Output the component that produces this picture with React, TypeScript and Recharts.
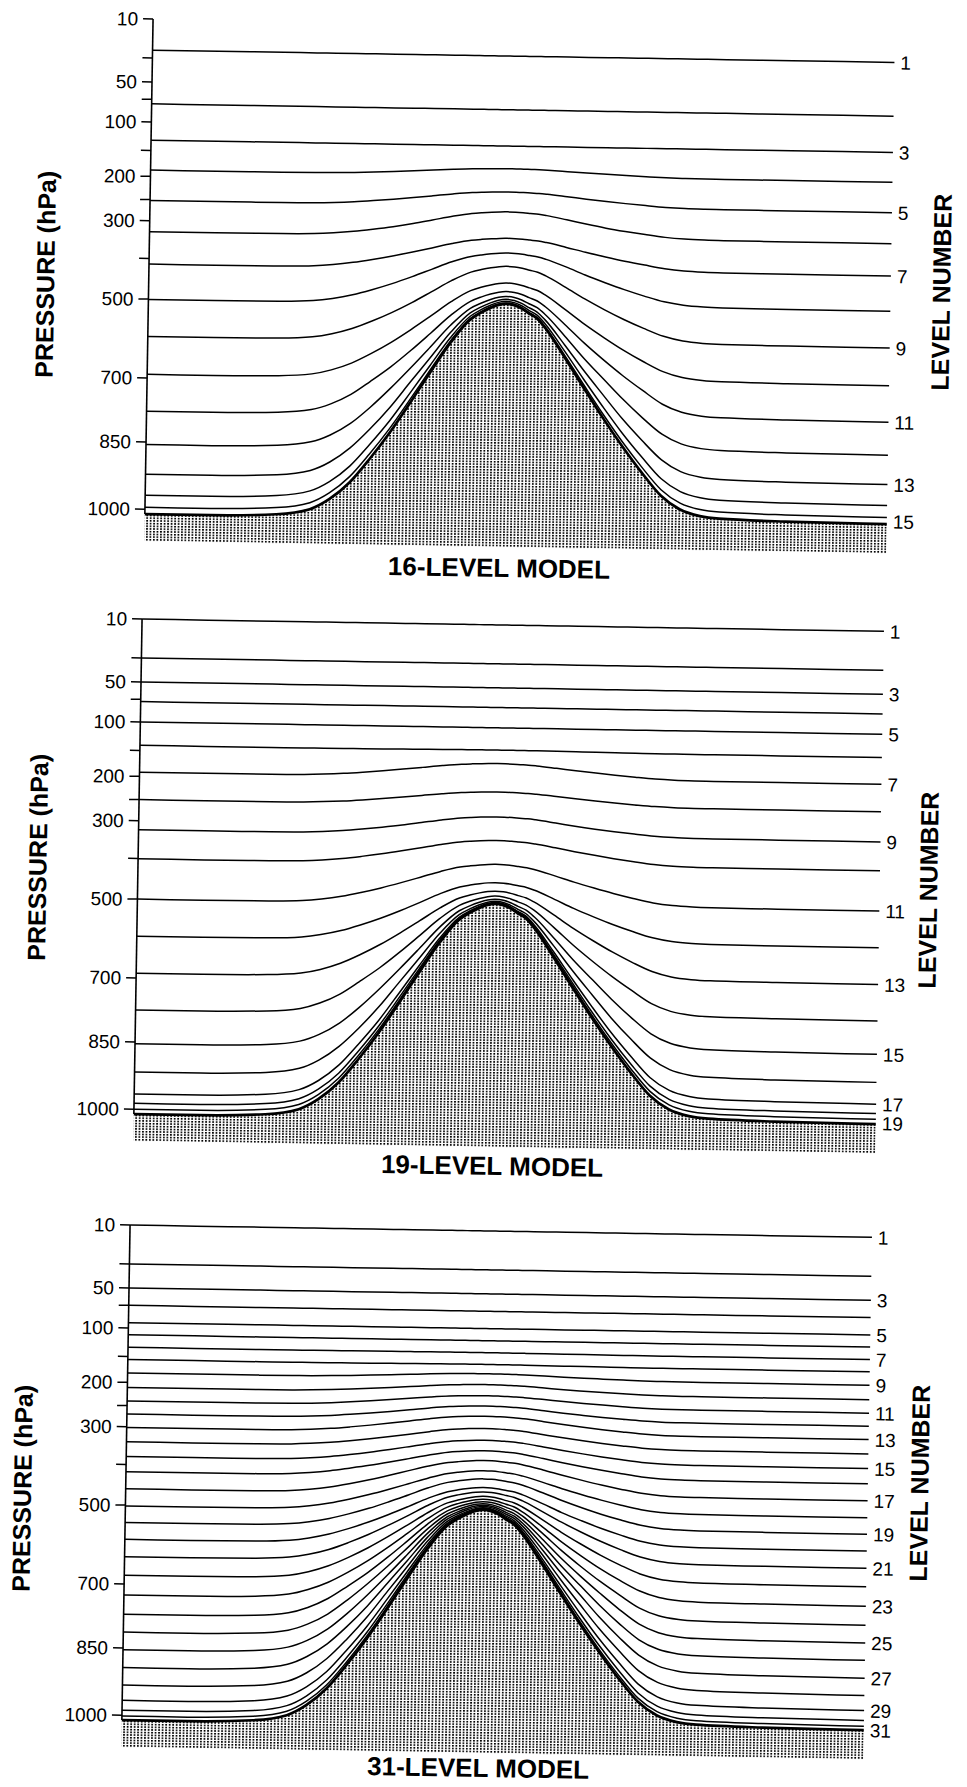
import React from 'react';
import { ComposedChart, Line, Area, XAxis, YAxis, ReferenceLine } from 'recharts';

const FONT = '"Liberation Sans", Arial, Helvetica, sans-serif';

// pressure axis: tick values, their labels, and where each sits (px below the 10 hPa tick)
const PRESSURE_TICKS = [10, 30, 50, 70, 100, 150, 200, 250, 300, 400, 500, 700, 850, 1000];
const TICK_LABELS = ['10', '', '50', '', '100', '', '200', '', '300', '', '500', '700', '850', '1000'];
const TICK_HEIGHTS = [0, 38.9, 62.9, 80.3, 102.9, 131.4, 157.3, 180.6, 201.7, 239.4, 280.1, 358.9, 422.9, 490.2];

// the mountain: position along the section (0-100) and surface pressure (hPa)
const TERRAIN_X = [0, 8.9, 17.7, 22.2, 24.8, 27.5, 30.1, 32.8, 35.5, 38.1, 40.8, 43.4, 44.8, 46.1, 47.2, 48.2, 49.3, 50.3, 51.3, 52.4, 53.5, 56.2, 58.8, 61.5, 64.1, 66.8, 69.5, 72.1, 74.8, 77.4, 86.3, 100];
const TERRAIN_PS = [1011, 1011, 1006.5, 994, 971, 933, 881, 819, 748, 675, 598, 539, 521, 508, 500, 497, 500, 508, 520, 533, 556, 630, 705, 776, 840, 899, 951, 981, 995, 1000, 1004, 1006];
const PS_FLAT = 1011;
const PS_SUMMIT = 497;

// level pressure over flat ground and over the summit
const L16_FLAT = [26, 76, 132, 188, 252, 329, 414, 501, 595, 691, 778, 856, 922, 969, 996];
const L16_PEAK = [26, 76, 132, 174, 221, 265, 331, 370, 405, 446, 467, 479, 486, 491, 495];

const L19_FLAT = [10, 30, 50, 73, 100, 141, 192, 250, 324, 401, 500, 594, 688, 775, 854, 917, 966, 987, 1000];
const L19_PEAK = [10, 30, 50, 73, 100, 139, 164, 221, 277, 337, 400, 445, 466, 478, 486, 491, 494, 495.5, 496.5];

const L31_FLAT = [10, 30, 50, 70, 93, 112, 134, 156, 182, 211, 240, 270, 302, 340, 379, 418, 460, 502, 544, 587, 631, 678, 726, 771, 813, 854, 894, 933, 967, 989, 1002];
const L31_PEAK = [10, 30, 50, 70, 93, 112, 133, 154, 172, 193, 216, 238, 261, 290, 320, 348, 374, 401, 421, 442, 453, 464, 471, 477, 482, 486, 489, 492, 494, 495.5, 496.5];

const HATCH_BASE = 522;
const AXIS_W = 100;
const PLOT_W = 742;
const TOP = 12;
const RIGHT = 45;
const TILT = 0.95;

function axisHeight(p: number) {
  const n = PRESSURE_TICKS.length;
  let i = 0;
  if (p >= PRESSURE_TICKS[n - 1]) i = n - 2;
  else while (i < n - 2 && p > PRESSURE_TICKS[i + 1]) i++;
  const p0 = PRESSURE_TICKS[i], p1 = PRESSURE_TICKS[i + 1];
  const h0 = TICK_HEIGHTS[i], h1 = TICK_HEIGHTS[i + 1];
  return h0 + ((p - p0) * (h1 - h0)) / (p1 - p0);
}

function buildRows(flat: number[], peak: number[]) {
  return TERRAIN_X.map((x, i) => {
    const ps = TERRAIN_PS[i];
    const w = (ps - PS_SUMMIT) / (PS_FLAT - PS_SUMMIT);
    const row: any = { x };
    flat.forEach((pf, k) => {
      row['L' + (k + 1)] = axisHeight(peak[k] + (pf - peak[k]) * w);
    });
    row.surface = axisHeight(ps);
    row.ground = [axisHeight(ps), HATCH_BASE];
    return row;
  });
}

const PANELS = [
  { id: 'p16', title: '16-LEVEL MODEL', flat: L16_FLAT, peak: L16_PEAK, left: 49, top: 7,
    titleX: 455, titleY: 555, pressX: -3, pressY: 269, levelX: 893, levelY: 272 },
  { id: 'p19', title: '19-LEVEL MODEL', flat: L19_FLAT, peak: L19_PEAK, left: 38, top: 607,
    titleX: 459, titleY: 553, pressX: 0, pressY: 252, levelX: 891, levelY: 270 },
  { id: 'p31', title: '31-LEVEL MODEL', flat: L31_FLAT, peak: L31_PEAK, left: 26, top: 1213,
    titleX: 457, titleY: 549, pressX: -3, pressY: 277, levelX: 894, levelY: 257 },
];

const endLabel = (level: number, count: number, last: number) => (p: any) => {
  if (level % 2 === 0 || p.index !== last) return <g key={p.index} />;
  return (
    <text key={p.index} x={p.cx + 6} y={p.cy} dy={level === count ? 11 : 7} fontSize={19} fontFamily={FONT} fill="#000">
      {level}
    </text>
  );
};

function Panel({ cfg }: any) {
  const rows = buildRows(cfg.flat, cfg.peak);
  const last = rows.length - 1;
  const count = cfg.flat.length;
  const chartW = AXIS_W + PLOT_W + RIGHT;
  const chartH = TOP + HATCH_BASE + 4;
  const text = { position: 'absolute' as const, fontFamily: FONT, fontWeight: 700, whiteSpace: 'nowrap' as const, lineHeight: 1, color: '#000' };
  return (
    <div style={{ position: 'absolute', left: cfg.left, top: cfg.top, width: chartW, height: chartH,
      transform: `rotate(${TILT}deg)`, transformOrigin: `${AXIS_W}px ${TOP + 245}px` }}>
      <ComposedChart width={chartW} height={chartH} data={rows} margin={{ top: TOP, right: RIGHT, bottom: 4, left: 0 }}>
        <defs>
          <pattern id={cfg.id} width={3.5} height={2.7} patternUnits="userSpaceOnUse">
            <rect x={0} y={0} width={1.8} height={1.6} fill="#000" />
          </pattern>
        </defs>
        <XAxis type="number" dataKey="x" domain={[0, 100]} hide />
        <YAxis type="number" domain={[0, HATCH_BASE]} reversed ticks={TICK_HEIGHTS} interval={0}
          tickFormatter={(v: number) => TICK_LABELS[TICK_HEIGHTS.indexOf(v)] ?? ''}
          width={AXIS_W} axisLine={false} tickSize={10} tickMargin={5}
          tick={{ fontSize: 19, fill: '#000', fontFamily: FONT }}
          tickLine={{ stroke: '#000', strokeWidth: 1.5 }} />
        <Area dataKey="ground" type="monotone" stroke="none" fill={`url(#${cfg.id})`} fillOpacity={1} isAnimationActive={false} />
        {cfg.flat.map((_: number, k: number) => (
          <Line key={k} dataKey={'L' + (k + 1)} type="monotone" stroke="#000" strokeWidth={1.5}
            dot={endLabel(k + 1, count, last)} activeDot={false} isAnimationActive={false} />
        ))}
        <Line dataKey="surface" type="monotone" stroke="#000" strokeWidth={2.7} dot={false} isAnimationActive={false} />
        <ReferenceLine segment={[{ x: 0, y: 0 }, { x: 0, y: axisHeight(PS_FLAT) }]} stroke="#000" strokeWidth={1.6} />
      </ComposedChart>
      <div style={{ ...text, left: cfg.titleX, top: cfg.titleY, fontSize: 26, transform: 'translate(-50%, -50%)' }}>
        {cfg.title}
      </div>
      <div style={{ ...text, left: cfg.pressX, top: cfg.pressY, fontSize: 25, transform: 'translate(-50%, -50%) rotate(-90deg)' }}>
        PRESSURE (hPa)
      </div>
      <div style={{ ...text, left: cfg.levelX, top: cfg.levelY, fontSize: 25, transform: 'translate(-50%, -50%) rotate(-90deg)' }}>
        LEVEL NUMBER
      </div>
    </div>
  );
}

export default function App() {
  return (
    <div style={{ position: 'absolute', left: 0, top: 0, width: 967, height: 1787, background: '#fff' }}>
      {PANELS.map((cfg) => (
        <Panel key={cfg.id} cfg={cfg} />
      ))}
    </div>
  );
}
